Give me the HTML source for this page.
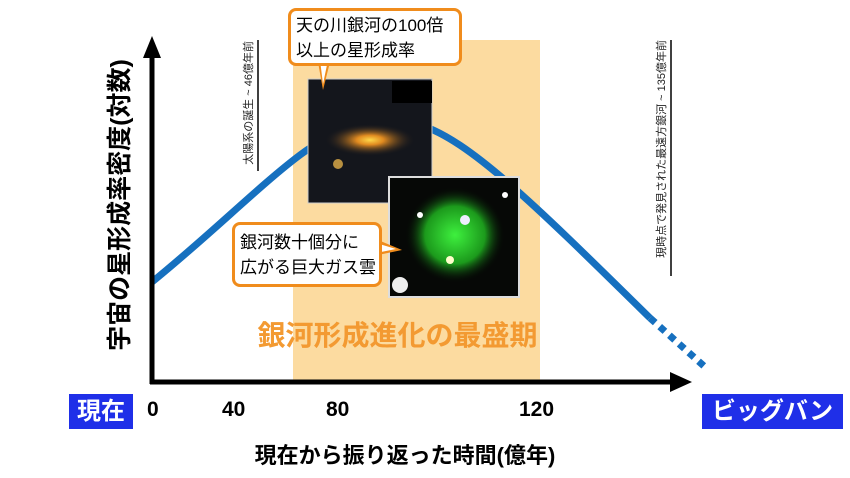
<!DOCTYPE html>
<html><head><meta charset="utf-8"><style>
body{margin:0;width:850px;height:478px;background:#fff;overflow:hidden;position:relative;font-family:"Liberation Sans","Noto Sans CJK JP",sans-serif}
.a{position:absolute}
.bx{background:#1f2fe8;color:#fff;font-weight:bold;font-size:24px;text-align:center;line-height:35px;height:35px}
.tk{font-weight:bold;font-size:21px;top:398px}
.co{border:3px solid #f08c1c;border-radius:8px;background:#fff;font-size:17px;line-height:25px;padding:2px 5px;box-sizing:border-box;white-space:nowrap}
.vt{font-size:11px;color:#222;white-space:nowrap;transform:rotate(-90deg);transform-origin:0 0;line-height:14px}
</style></head><body>
<div class="a" style="left:293px;top:40px;width:247px;height:341px;background:#fcdba0"></div>
<svg class="a" style="left:0;top:0" width="850" height="478">
<path d="M152,282 C210,235 260,185 300,155 C340,125 380,118 420,125 C470,140 540,210 650,318" fill="none" stroke="#1670bf" stroke-width="7"/>
<path d="M650,318 L705,367" fill="none" stroke="#1670bf" stroke-width="7" stroke-dasharray="7,6"/>
<line x1="152" y1="56" x2="152" y2="384" stroke="#000" stroke-width="5"/>
<polygon points="152,36 143,58 161,58" fill="#000"/>
<line x1="150" y1="382" x2="672" y2="382" stroke="#000" stroke-width="5"/>
<polygon points="692,382 670,372 670,392" fill="#000"/>
<line x1="258" y1="40" x2="258" y2="171" stroke="#000" stroke-width="1.5"/>
<line x1="671" y1="40" x2="671" y2="276" stroke="#000" stroke-width="1.5"/>
<defs><radialGradient id="g1"><stop offset="0" stop-color="#ffd84a"/><stop offset="0.3" stop-color="#e08a20"/><stop offset="1" stop-color="#1a1a20" stop-opacity="0"/></radialGradient>
<radialGradient id="g2"><stop offset="0" stop-color="#3ef03e"/><stop offset="0.6" stop-color="#1c9a1c"/><stop offset="1" stop-color="#050805" stop-opacity="0"/></radialGradient></defs>
<rect x="308" y="79" width="124" height="124" fill="#14161c" stroke="#ccc"/>
<rect x="392" y="81" width="40" height="22" fill="#000"/>
<ellipse cx="370" cy="140" rx="45" ry="16" fill="url(#g1)"/>
<circle cx="338" cy="164" r="5" fill="#b89040"/>
<rect x="389" y="177" width="130" height="120" fill="#060806" stroke="#ddd" stroke-width="2"/>
<ellipse cx="455" cy="235" rx="50" ry="48" fill="url(#g2)"/>
<circle cx="465" cy="220" r="5" fill="#eef"/><circle cx="400" cy="285" r="8" fill="#eee"/><circle cx="505" cy="195" r="3" fill="#fff"/>
<circle cx="450" cy="260" r="4" fill="#ffffcc"/><circle cx="420" cy="215" r="3" fill="#fff"/>
<polygon points="318,62 330,62 323,90" fill="#f08c1c"/><polygon points="320,60 328,60 323,84" fill="#fff"/>
<polygon points="378,240 378,255 402,250" fill="#f08c1c"/><polygon points="376,243 376,253 396,249" fill="#fff"/>
</svg>
<div class="a co" style="left:288px;top:8px;width:174px;height:58px">天の川銀河の100倍<br>以上の星形成率</div>
<div class="a co" style="left:232px;top:222px;width:150px;height:65px;padding-top:5px">銀河数十個分に<br>広がる巨大ガス雲</div>
<div class="a vt" style="left:242px;top:171px;width:130px;text-align:right">太陽系の誕生 ~ 46億年前</div>
<div class="a vt" style="left:655px;top:276px;width:236px;text-align:right">現時点で発見された最遠方銀河 ~ 135億年前</div>
<div class="a" style="left:240px;top:314px;width:315px;text-align:center;color:#f39a32;font-weight:bold;font-size:28px">銀河形成進化の最盛期</div>
<div class="a" style="left:-30px;top:190px;width:300px;text-align:center;transform:rotate(-90deg);font-weight:bold;font-size:25px;line-height:30px">宇宙の星形成率密度(対数)</div>
<div class="a bx" style="left:69px;top:394px;width:64px">現在</div>
<div class="a bx" style="left:702px;top:394px;width:141px">ビッグバン</div>
<div class="a tk" style="left:147px">0</div>
<div class="a tk" style="left:222px">40</div>
<div class="a tk" style="left:326px">80</div>
<div class="a tk" style="left:519px">120</div>
<div class="a" style="left:205px;top:438px;width:400px;text-align:center;font-weight:bold;font-size:22px">現在から振り返った時間(億年)</div>
</body></html>
